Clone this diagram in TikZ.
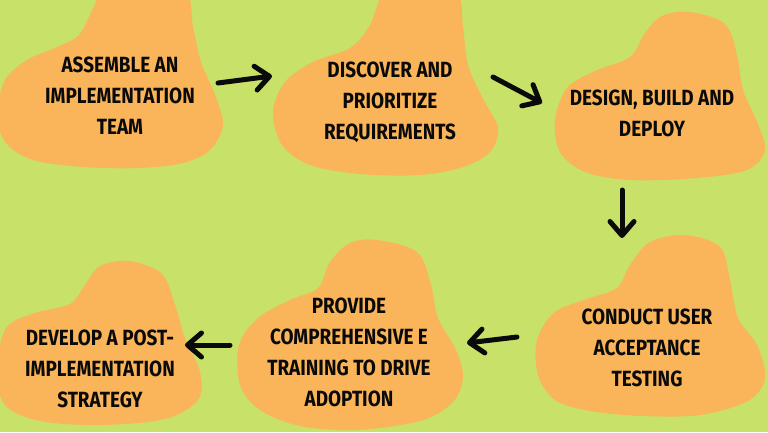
\documentclass[tikz,border=0pt]{standalone}
\usepackage{fontspec}
\newfontfamily\blobfont[FakeStretch=0.86]{Fira Sans}
\usetikzlibrary{arrows.meta}
\definecolor{bg}{RGB}{200,225,104}
\definecolor{blobc}{RGB}{250,181,90}
\definecolor{ink}{RGB}{10,10,10}
\begin{document}
\begin{tikzpicture}[x=1pt,y=-1pt,
  blobfill/.style={fill=blobc},
  steptext/.style={font=\blobfont\bfseries\fontsize{22}{31}\selectfont, align=center, text=ink, inner sep=0pt},
  flowarrow/.style={draw=ink, line width=5pt, line cap=round, -{Straight Barb[length=14pt,width=24pt,round]}}
]
\useasboundingbox (0,0) rectangle (768,432);
\fill[bg] (0,0) rectangle (768,432);
\begin{scope}
\clip (0,0) rectangle (768,432);
% blob 1
\fill[blobfill] plot[smooth cycle,tension=0.55] coordinates {(140,-30) (185,-12) (193,27) (201,62) (215,95) (223,125) (210,150) (183,163) (140,168) (83,167) (33,160) (6,143) (-3,115) (5,80) (27,60) (55,48) (78,36) (90,15) (108,-20)};
% blob 2
\fill[blobfill] plot[smooth cycle,tension=0.55] coordinates {(420,-28) (457,-8) (463,27) (468,65) (482,97) (498,128) (490,152) (463,167) (420,175) (360,174) (310,165) (282,145) (273,112) (285,82) (313,62) (350,48) (370,25) (385,-10)};
% blob 3
\fill[blobfill] plot[smooth cycle,tension=0.55] coordinates {(690,12) (725,24) (737,55) (743,90) (757,122) (765,150) (747,170) (697,178) (630,180) (585,172) (560,152) (555,120) (567,88) (595,71) (630,57) (645,33) (662,16)};
% blob 4
\fill[blobfill] plot[smooth cycle,tension=0.55] coordinates {(685,235) (720,247) (730,280) (738,318) (757,345) (765,378) (748,401) (700,415) (642,416) (590,411) (555,400) (538,375) (537,340) (555,312) (590,298) (617,288) (630,265) (650,242)};
% blob 5
\fill[blobfill] plot[smooth cycle,tension=0.55] coordinates {(377,240) (417,252) (431,285) (438,318) (456,350) (463,378) (452,403) (420,421) (357,430) (300,426) (260,410) (240,385) (239,345) (258,318) (290,300) (318,288) (330,262) (350,243)};
% blob 6
\fill[blobfill] plot[smooth cycle,tension=0.55] coordinates {(130,261) (162,274) (175,305) (185,338) (200,372) (198,400) (165,419) (100,425) (40,421) (5,405) (-3,370) (6,328) (35,313) (70,304) (85,285) (100,266)};
\end{scope}
\node[steptext] (t1) at (120,95.5) {ASSEMBLE AN\\IMPLEMENTATION\\TEAM};
\node[steptext] (t2) at (390,102.5) {DISCOVER AND\\PRIORITIZE\\REQUIREMENTS};
\node[steptext] (t3) at (652,113) {DESIGN, BUILD AND\\DEPLOY};
\node[steptext] (t4) at (647,347.5) {CONDUCT USER\\ACCEPTANCE\\TESTING};
\node[steptext] (t5) at (349,352.5) {PROVIDE\\COMPREHENSIVE E\\TRAINING TO DRIVE\\ADOPTION};
\node[steptext] (t6) at (100,369) {DEVELOP A POST-\\IMPLEMENTATION\\STRATEGY};
\coordinate (a1s) at (218,83);  \coordinate (a1e) at (272,76);
\coordinate (a2s) at (493,77);  \coordinate (a2e) at (542,103);
\coordinate (a3s) at (622,190); \coordinate (a3e) at (622,238);
\coordinate (a4s) at (517,337); \coordinate (a4e) at (467,343);
\coordinate (a5s) at (230,345); \coordinate (a5e) at (185,345);
\draw[flowarrow] (a1s) -- (a1e);
\draw[flowarrow] (a2s) -- (a2e);
\draw[flowarrow] (a3s) -- (a3e);
\draw[flowarrow] (a4s) -- (a4e);
\draw[flowarrow] (a5s) -- (a5e);
\end{tikzpicture}
\end{document}
